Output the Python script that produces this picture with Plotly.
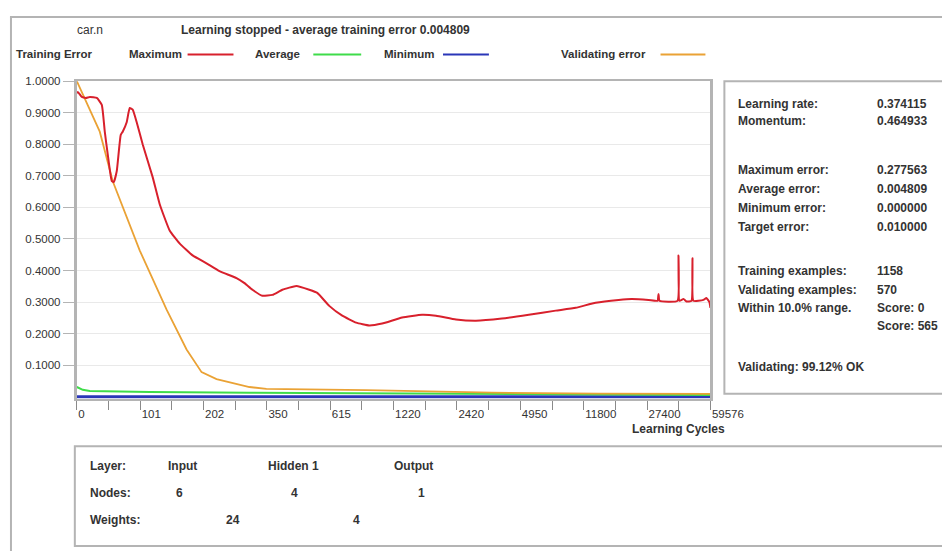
import plotly.graph_objects as go

W, H = 942, 551
KX = 1.034  # horizontal calibration of the layout grid

# ---------------- data ----------------
x_tick_labels = ["0", "101", "202", "350", "615", "1220", "2420", "4950", "11800", "27400", "59576"]
y_tick_vals = [0.1, 0.2, 0.3, 0.4, 0.5, 0.6, 0.7, 0.8, 0.9, 1.0]
y_tick_text = ["0.1000", "0.2000", "0.3000", "0.4000", "0.5000", "0.6000", "0.7000", "0.8000", "0.9000", "1.0000"]

# x positions are in units of the labelled tick index (0..10)
max_x = [0.000, 0.016, 0.079, 0.142, 0.205, 0.315, 0.394, 0.441, 0.488, 0.551, 0.583, 0.630, 0.693,
         0.724, 0.787, 0.835, 0.882, 0.945, 1.039, 1.197, 1.307, 1.465, 1.622, 1.827, 2.047, 2.252,
         2.520, 2.646, 2.772, 2.929, 3.087, 3.244, 3.465, 3.669, 3.795, 3.984, 4.189, 4.409, 4.614,
         4.819, 5.134, 5.449, 5.669, 5.984, 6.299, 6.709, 7.134, 7.559, 7.874, 8.189, 8.551, 8.756,
         9.024, 9.165, 9.181, 9.197, 9.480, 9.496, 9.512, 9.575, 9.622, 9.701, 9.717, 9.732, 9.890,
         9.937, 9.984, 10.000]
max_y = [0.962, 0.966, 0.950, 0.947, 0.950, 0.947, 0.925, 0.840, 0.768, 0.684, 0.680, 0.715, 0.830,
         0.840, 0.870, 0.915, 0.910, 0.870, 0.800, 0.696, 0.611, 0.527, 0.486, 0.448, 0.423, 0.398,
         0.376, 0.360, 0.339, 0.320, 0.323, 0.339, 0.351, 0.339, 0.329, 0.288, 0.257, 0.235, 0.226,
         0.232, 0.251, 0.260, 0.257, 0.245, 0.241, 0.248, 0.260, 0.273, 0.282, 0.298, 0.307, 0.310,
         0.307, 0.304, 0.326, 0.304, 0.304, 0.448, 0.304, 0.310, 0.302, 0.304, 0.439, 0.304, 0.307,
         0.313, 0.300, 0.282]

avg_x = [0.000, 0.094, 0.205, 1.150, 2.724, 5.087, 8.236, 10.000]
avg_y = [0.031, 0.022, 0.018, 0.015, 0.013, 0.010, 0.008, 0.006]

min_x = [0.0, 10.0]
min_y = [0.0, 0.0]

val_x = [0.000, 0.362, 0.567, 0.992, 1.417, 1.732, 1.969, 2.205, 2.724, 2.992, 4.567, 6.031, 6.551, 8.236, 10.000]
val_y = [1.000, 0.840, 0.683, 0.464, 0.276, 0.150, 0.078, 0.056, 0.031, 0.025, 0.021, 0.016, 0.013, 0.010, 0.009]

title_file = "car.n"
title_status = "Learning stopped - average training error 0.004809"
legend_names = ["Maximum", "Average", "Minimum", "Validating error"]

stats_labels = ["Learning rate:", "Momentum:", "Maximum error:", "Average error:", "Minimum error:",
                "Target error:", "Training examples:", "Validating examples:", "Within 10.0% range.", ""]
stats_values = ["0.374115", "0.464933", "0.277563", "0.004809", "0.000000", "0.010000",
                "1158", "570", "Score: 0", "Score: 565"]
validating_text = "Validating: 99.12% OK"

layer_names = ["Input", "Hidden 1", "Output"]
layer_nodes = ["6", "4", "1"]
layer_weights = ["24", "4"]

# ---------------- style ----------------
RED = "#d8202c"
GREEN = "#3fdc4a"
BLUE = "#2a36b8"
ORANGE = "#eaa235"
TXT = "#333333"
FONT = "Liberation Sans"
FRAME = "#b4b4b4"
FS = 12


def px(x):
    return x * KX / W


def py(y):
    return 1 - y / H


fig = go.Figure()
fig.add_trace(go.Scatter(x=min_x, y=min_y, mode="lines", line=dict(color=BLUE, width=3), name=legend_names[2]))
fig.add_trace(go.Scatter(x=avg_x, y=avg_y, mode="lines", line=dict(color=GREEN, width=2), name=legend_names[1]))
fig.add_trace(go.Scatter(x=val_x, y=val_y, mode="lines", line=dict(color=ORANGE, width=1.8), name=legend_names[3]))
fig.add_trace(go.Scatter(x=max_x, y=max_y, mode="lines",
                         line=dict(color=RED, width=2, shape="spline", smoothing=0.4), name=legend_names[0]))

x_tickvals = [i * 0.5 for i in range(21)]
x_ticktext = [x_tick_labels[i // 2] if i % 2 == 0 else "" for i in range(21)]

shapes = []
ann = []


def text(x, y, s, size=FS, bold=True, anchor="left", color=TXT):
    ann.append(dict(x=px(x), y=py(y), xref="paper", yref="paper", text=("<b>%s</b>" % s) if bold else s,
                    showarrow=False, xanchor=anchor, yanchor="middle",
                    font=dict(family=FONT, size=size, color=color)))


def line(x0, y0, x1, y1, color, width=1):
    shapes.append(dict(type="line", xref="paper", yref="paper", x0=px(x0), y0=py(y0), x1=px(x1), y1=py(y1),
                       line=dict(color=color, width=width)))


def rect(x0, y0, x1, y1, color, width=2):
    shapes.append(dict(type="rect", xref="paper", yref="paper", x0=px(x0), y0=py(y0), x1=px(x1), y1=py(y1),
                       line=dict(color=color, width=width)))


# outer frame
line(10, 11, 1000, 11, FRAME, 2)
line(11, 11, 11, 560, FRAME, 2)

# header
ROW1, ROW2 = 24, 49
text(90, ROW1, title_file, anchor="center", bold=False)
text(179, ROW1, title_status)
text(14, ROW2, "Training Error", size=11.5)
text(127, ROW2, legend_names[0], size=11.5)
line(188, ROW2, 234, ROW2, RED, 2)
text(254, ROW2, legend_names[1], size=11.5)
line(314, ROW2, 362, ROW2, GREEN, 2)
text(383, ROW2, legend_names[2], size=11.5)
line(444, ROW2, 490, ROW2, BLUE, 2)
text(560, ROW2, legend_names[3], size=11.5)
line(662, ROW2, 707, ROW2, ORANGE, 2)

# axis title
text(680, 428, "Learning Cycles", anchor="center")

# right panel
rect(726, 76, 1000, 392, FRAME)
rows_y = [99, 116, 166, 185, 204, 223, 268, 287, 305, 324]
for lab, val, yy in zip(stats_labels, stats_values, rows_y):
    if lab:
        text(738, yy, lab)
    text(877, yy, val)
text(738, 365, validating_text)

# bottom panel
rect(75, 445, 1000, 546, FRAME)
text(88, 465, "Layer:")
for name, xx in zip(layer_names, [166, 267, 393]):
    text(xx, 465, name)
text(88, 492, "Nodes:")
for n, xx in zip(layer_nodes, [180, 295, 422]):
    text(xx, 492, n, anchor="center")
text(88, 520, "Weights:")
for wv, xx in zip(layer_weights, [234, 357]):
    text(xx, 520, wv, anchor="center")

fig.update_layout(
    width=W, height=H, margin=dict(l=0, r=0, t=0, b=0),
    paper_bgcolor="white", plot_bgcolor="white", showlegend=False,
    shapes=shapes, annotations=ann,
    xaxis=dict(domain=[px(77), px(712)], range=[0, 10], tickvals=x_tickvals, ticktext=x_ticktext,
               ticks="outside", ticklen=9, tickcolor="#8a8a8a", tickwidth=1, showgrid=False,
               ticklabelposition="outside right", ticklabelstandoff=4,
               showline=True, linecolor=FRAME, linewidth=2, mirror=True, zeroline=False,
               tickfont=dict(family=FONT, size=11.5, color=TXT), fixedrange=True),
    yaxis=dict(domain=[py(397), py(76)], range=[-0.006, 1.0], tickvals=y_tick_vals, ticktext=y_tick_text,
               ticks="outside", ticklen=11, tickcolor=FRAME, tickwidth=1, showgrid=True, gridcolor="#e9e9e9",
               showline=True, linecolor=FRAME, linewidth=3, mirror=True, zeroline=False,
               tickfont=dict(family=FONT, size=11.5, color=TXT), fixedrange=True),
)
fig.update_xaxes(tickprefix="<b>", ticksuffix="</b>")
fig.update_yaxes(tickprefix="<b>", ticksuffix="</b>")

fig.write_html("out.html", config={"displayModeBar": False},
               post_script="document.body.style.margin='0px';document.body.style.overflow='hidden';")
